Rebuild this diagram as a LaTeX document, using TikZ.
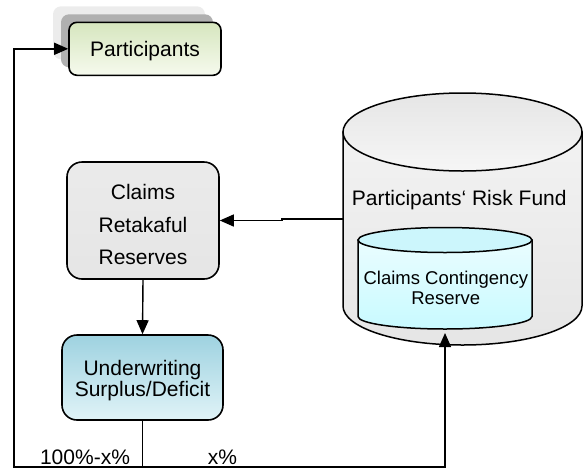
\documentclass[tikz,border=0pt]{standalone}
\usepackage{fontspec}
\setmainfont{Liberation Sans}
\usetikzlibrary{arrows.meta,shadows}
\definecolor{pgreenT}{RGB}{214,230,190}
\definecolor{pgreenB}{RGB}{246,250,238}
\definecolor{ublueT}{RGB}{158,210,224}
\definecolor{ublueB}{RGB}{224,243,247}
\definecolor{cyanT}{RGB}{204,246,252}
\definecolor{cyanA}{RGB}{234,253,255}
\definecolor{cyanB}{RGB}{200,250,255}
\definecolor{shadowA}{RGB}{236,236,236}
\definecolor{shadowB}{RGB}{176,176,176}
\begin{document}
\begin{tikzpicture}[x=1pt,y=-1pt,
  box/.style={draw=black, line width=1.6pt, inner sep=0pt},
  conn/.style={line width=1.4pt},
  arr/.style={conn, -{Triangle[length=14pt,width=12pt]}},
  lab/.style={font=\fontsize{21}{25}\selectfont, align=center, inner sep=0pt},
  cyl/.style={draw=black, line width=1.5pt}
]
\useasboundingbox (0,0) rectangle (586,469);

% outer cylinder (Participants' Risk Fund)
\path[cyl, top color=gray!10, middle color=white, bottom color=gray!20]
  (343,132) -- (343,306) arc[start angle=180, end angle=0, x radius=119.5, y radius=39] -- (582,132) -- cycle;
\path[cyl, top color=gray!20, bottom color=gray!7]
  (462.5,132) ellipse[x radius=119.5, y radius=39];

% inner cylinder (Claims Contingency Reserve)
\path[cyl, top color=cyanA, bottom color=cyanB]
  (358,240) -- (358,316.5) arc[start angle=180, end angle=0, x radius=87, y radius=12.5] -- (532,240) -- cycle;
\path[cyl, fill=cyanT]
  (445,240) ellipse[x radius=87, y radius=12.5];

\node[lab, anchor=base] (fundT) at (459.2,205) {Participants‘ Risk Fund};
\node[lab, font=\fontsize{18.5}{20}\selectfont] (ccrT) at (445.8,288.3) {Claims Contingency\\Reserve};

% boxes
\node[box, lab, rounded corners=8pt, minimum width=152pt, minimum height=53pt,
  text depth=0pt, top color=pgreenT, bottom color=pgreenB,
  general shadow={shadow xshift=-16pt, shadow yshift=16pt, fill=shadowA, draw=none},
  general shadow={shadow xshift=-8pt, shadow yshift=8pt, fill=shadowB, draw=none}]
  (part) at (145,48.8) {Participants};

\node[box, rounded corners=15pt, minimum width=152pt, minimum height=117pt,
  top color=gray!16, middle color=gray!2, bottom color=gray!20] (claims) at (143,220.5) {};
\node[lab, font=\fontsize{21}{32.5}\selectfont] (claimsT) at (143,224.6) {Claims\\Retakaful\\Reserves};

\node[box, rounded corners=15pt, minimum width=161pt, minimum height=85pt,
  top color=ublueT, bottom color=ublueB] (uw) at (142.5,377.5) {};
\node[lab, font=\fontsize{21}{21.2}\selectfont] (uwT) at (142.5,380.7) {Underwriting\\Surplus/Deficit};

% labels on the bottom line
\node[lab, anchor=base] (pct1) at (85,464.3) {100\%-x\%};
\node[lab, anchor=base] (pct2) at (222.5,464.3) {x\%};

% connector end points
\coordinate (bl) at (14,467);
\coordinate (br) at (445,467);
\coordinate (ccrB) at (445,333);
\coordinate (fundW) at (343,219);
\coordinate (jog) at (282,219);

% connectors
\draw[conn] (uw.south) -- (uw.south |- bl);
\draw[arr] (uw.south |- bl) -- (bl) |- (part.west);
\draw[arr] (uw.south |- bl) -- (br) -- (ccrB);
\draw[arr] (fundW) -- (jog) -- (jog |- claims.east) -- (claims.east);
\draw[arr] (claims.south) -- (uw.north);
\end{tikzpicture}
\end{document}
